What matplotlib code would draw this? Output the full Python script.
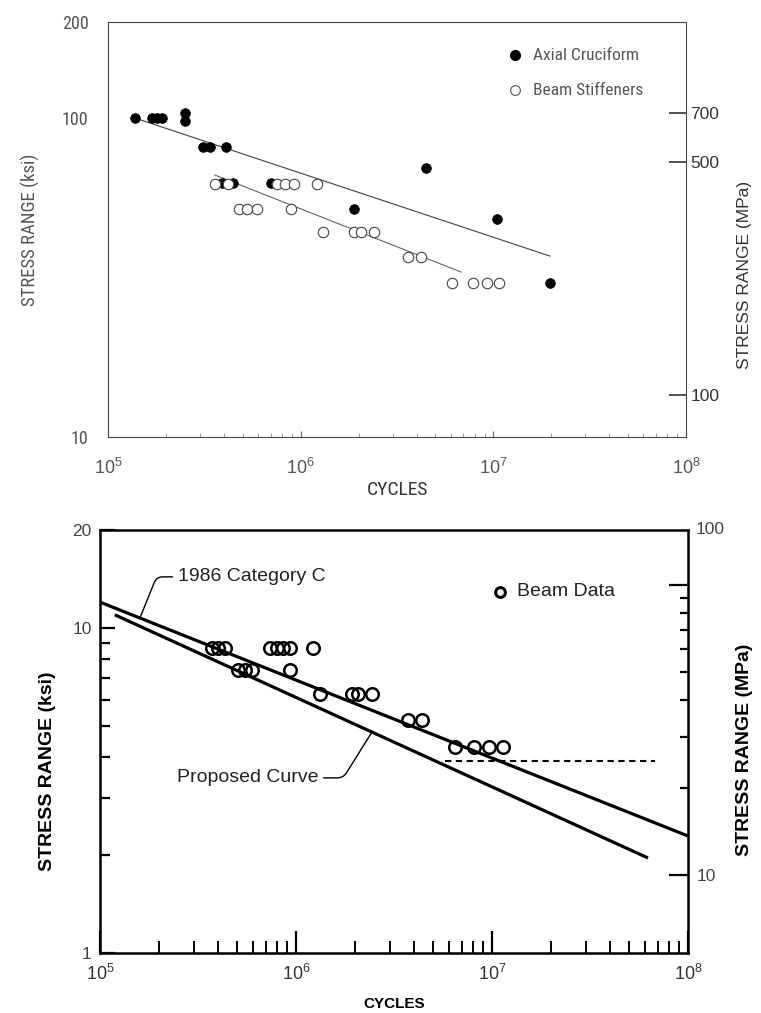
import os
import matplotlib
matplotlib.use("Agg")
import matplotlib.pyplot as plt
import matplotlib.font_manager as fm
from matplotlib.font_manager import FontProperties
from matplotlib.ticker import FixedLocator, NullFormatter, LogLocator, NullLocator

# ---------------- data: top chart ----------------
axial_N = [1.38e5, 1.7e5, 1.8e5, 1.9e5, 2.5e5, 2.5e5, 3.1e5, 3.4e5, 4.1e5,
           3.9e5, 4.45e5, 7.0e5, 1.9e6, 4.45e6, 1.04e7, 1.97e7]
axial_S = [100, 100, 100, 100, 98, 104, 81, 81, 81,
           62.5, 62.5, 62.5, 52, 69.7, 48.2, 30.4]

stiff_N = [3.6e5, 4.2e5, 7.5e5, 8.3e5, 9.2e5, 1.21e6,
           4.8e5, 5.25e5, 5.9e5, 8.9e5,
           1.3e6, 1.9e6, 2.05e6, 2.39e6,
           3.6e6, 4.2e6,
           6.1e6, 7.8e6, 9.3e6, 1.07e7]
stiff_S = [62, 62, 62, 62, 62, 62,
           52, 52, 52, 52,
           44, 44, 44, 44,
           36.7, 36.7,
           30.4, 30.4, 30.4, 30.4]

axial_fit_N = [1.38e5, 1.97e7]
axial_fit_S = [100, 36.9]
stiff_fit_N = [3.58e5, 6.8e6]
stiff_fit_S = [66.3, 32.9]

top_yticks = [10, 100, 200]
top_yticklabels = ["10", "100", "200"]
top_mpa_ticks = [100, 500, 700]
top_mpa_lim = [74.8, 1309]
xticks = [1e5, 1e6, 1e7, 1e8]
xticklabels = [r"$\mathregular{10^5}$", r"$\mathregular{10^6}$",
               r"$\mathregular{10^7}$", r"$\mathregular{10^8}$"]

# ---------------- data: bottom chart ----------------
beam_N = [3.73e5, 4.0e5, 4.35e5, 7.36e5, 8.0e5, 8.6e5, 9.3e5, 1.22e6,
          5.06e5, 5.5e5, 5.97e5, 9.3e5,
          1.32e6, 1.93e6, 2.07e6, 2.44e6,
          3.72e6, 4.4e6,
          6.47e6, 8.1e6, 9.66e6, 1.14e7]
beam_S = [8.68] * 8 + [7.43] * 4 + [6.26] * 4 + [5.21] * 2 + [4.3] * 4

catc_N = [1e5, 1e8]
catc_S = [12.0, 2.29]
prop_N = [1.19e5, 6.25e7]
prop_S = [10.97, 1.96]
cafl_N = [5.76e6, 6.8e7]
cafl_S = [3.9, 3.9]

bot_yticks = [1, 10, 20]
bot_yticklabels = ["1", "10", "20"]
bot_mpa_lim = [5.38, 154.7]
bot_mpa_major = [10, 100]
bot_mpa_labels = ["10", ""]
bot_mpa_minor = [20, 30, 40, 50, 60, 70, 80, 90]


def find_narrow():
    files = [f.fname for f in fm.fontManager.ttflist]
    prefs = ["liberationsansnarrow-regular", "robotocondensed-regular",
             "dejavusanscondensed.ttf", "notosans-condensed.ttf",
             "opensans_condensed-regular", "opensans-condensed"]
    for p in prefs:
        for f in files:
            if p in os.path.basename(f).lower():
                return f
    bad = ["bold", "italic", "oblique", "light", "thin", "black", "medium",
           "semi", "extra", "ultra", "mono", "serif"]
    for f in files:
        b = os.path.basename(f).lower()
        if ("condensed" in b or "narrow" in b) and not any(k in b for k in bad):
            return f
    return None


NARROW = find_narrow()


def nfp(size):
    if NARROW:
        return FontProperties(fname=NARROW, size=size)
    return FontProperties(family="Liberation Sans", size=size)


plt.rcParams["font.family"] = ["Liberation Sans", "DejaVu Sans"]
plt.rcParams["mathtext.fontset"] = "custom"
plt.rcParams["mathtext.rm"] = "Liberation Sans"

fig = plt.figure(figsize=(7.61, 10.13), dpi=100)

# ================= TOP CHART =================
gray = "#555555"
ax1 = fig.add_axes([108 / 761, 1 - 437 / 1013, 578 / 761, 415 / 1013])
ax1.set_xscale("log")
ax1.set_yscale("log")
ax1.set_xlim(1e5, 1e8)
ax1.set_ylim(10, 200)
for sp in ax1.spines.values():
    sp.set_color("#444444")
    sp.set_linewidth(0.8)

ax1.plot(axial_fit_N, axial_fit_S, color="#444444", lw=0.8)
ax1.plot(stiff_fit_N, stiff_fit_S, color="#666666", lw=0.8)
ax1.plot(axial_N, axial_S, "o", ms=7, mfc="black", mec="black", mew=0.5)
ax1.plot(stiff_N, stiff_S, "o", ms=7.5, mfc="white", mec="#444444", mew=0.8)

ax1.yaxis.set_major_locator(FixedLocator(top_yticks))
ax1.yaxis.set_minor_locator(NullLocator())
ax1.set_yticklabels(top_yticklabels, fontproperties=nfp(13), color=gray)
ax1.tick_params(axis="y", which="major", length=0, pad=14)

ax1.xaxis.set_major_locator(FixedLocator(xticks))
ax1.xaxis.set_minor_locator(LogLocator(base=10, subs=[2, 3, 4, 5, 6, 7, 8, 9]))
ax1.xaxis.set_minor_formatter(NullFormatter())
ax1.set_xticklabels(xticklabels, fontsize=13, color=gray)
ax1.tick_params(axis="x", which="major", direction="in", length=4, color="#666666", pad=15)
ax1.tick_params(axis="x", which="minor", direction="in", length=3, color="#888888", width=0.6)

ax1.set_xlabel("CYCLES", fontproperties=nfp(14), color="#333333", labelpad=2)
ax1.set_ylabel("STRESS RANGE (ksi)", fontproperties=nfp(13.5), color=gray, labelpad=16)

ax1r = ax1.twinx()
ax1r.set_yscale("log")
ax1r.set_ylim(*top_mpa_lim)
ax1r.yaxis.set_major_locator(FixedLocator(top_mpa_ticks))
ax1r.yaxis.set_minor_locator(NullLocator())
ax1r.set_yticklabels([str(t) for t in top_mpa_ticks], fontsize=12.5, color="#333333")
ax1r.tick_params(axis="y", which="major", direction="in", length=12, width=1.2,
                 color="#333333", pad=3)
for sp in ax1r.spines.values():
    sp.set_visible(False)
ax1r.set_ylabel("STRESS RANGE (MPa)", fontsize=12.5, color="#333333")
ax1r.yaxis.set_label_coords(1.088, 0.39)

# legend for top chart
ax1.plot([0.705], [0.92], "o", ms=7, mfc="black", mec="black", transform=ax1.transAxes)
ax1.text(0.735, 0.92, "Axial Cruciform", transform=ax1.transAxes,
         fontproperties=nfp(12.5), color=gray, va="center")
ax1.plot([0.705], [0.835], "o", ms=7, mfc="white", mec="#555555", mew=0.8,
         transform=ax1.transAxes)
ax1.text(0.735, 0.835, "Beam Stiffeners", transform=ax1.transAxes,
         fontproperties=nfp(12.5), color=gray, va="center")

# ================= BOTTOM CHART =================
ax2 = fig.add_axes([100 / 761, 1 - 953 / 1013, 588 / 761, 423 / 1013])
ax2.set_xscale("log")
ax2.set_yscale("log")
ax2.set_xlim(1e5, 1e8)
ax2.set_ylim(1, 20)
for sp in ax2.spines.values():
    sp.set_color("black")
    sp.set_linewidth(1.8)

ax2.plot(catc_N, catc_S, color="black", lw=2.3, solid_capstyle="butt")
ax2.plot(prop_N, prop_S, color="black", lw=2.3, solid_capstyle="butt")
ax2.plot(cafl_N, cafl_S, color="black", lw=1.5, linestyle=(0, (3, 2.2)))
ax2.plot(beam_N, beam_S, "o", ms=9, mfc="none", mec="black", mew=1.8)

ax2.yaxis.set_major_locator(FixedLocator(bot_yticks))
ax2.yaxis.set_minor_locator(FixedLocator([2, 3, 4, 5, 6, 7, 8, 9]))
ax2.yaxis.set_minor_formatter(NullFormatter())
ax2.set_yticklabels(bot_yticklabels, fontsize=12.5, color="#444444")
ax2.tick_params(axis="y", which="major", direction="in", length=11, width=1.6, pad=6)
ax2.tick_params(axis="y", which="minor", direction="in", length=7, width=1.6)

ax2.xaxis.set_major_locator(FixedLocator(xticks))
ax2.xaxis.set_minor_locator(LogLocator(base=10, subs=[2, 3, 4, 5, 6, 7, 8, 9]))
ax2.xaxis.set_minor_formatter(NullFormatter())
ax2.set_xticklabels(xticklabels, fontsize=13, color="#333333")
ax2.tick_params(axis="x", which="major", direction="in", length=16, width=1.6, pad=8)
ax2.tick_params(axis="x", which="minor", direction="in", length=9, width=1.4)
ax2.set_xlabel("CYCLES", fontsize=11, fontweight="bold", labelpad=9)
ax2.set_ylabel("STRESS RANGE (ksi)", fontsize=14, fontweight="bold", labelpad=14)
ax2.yaxis.set_label_coords(-0.075, 0.43)

ax2r = ax2.twinx()
ax2r.set_yscale("log")
ax2r.set_ylim(*bot_mpa_lim)
ax2r.yaxis.set_major_locator(FixedLocator(bot_mpa_major))
ax2r.yaxis.set_minor_locator(FixedLocator(bot_mpa_minor))
ax2r.yaxis.set_minor_formatter(NullFormatter())
ax2r.set_yticklabels(bot_mpa_labels, fontsize=12.5, color="#444444")
ax2r.tick_params(axis="y", which="major", direction="in", length=14, width=1.6, pad=6)
ax2r.tick_params(axis="y", which="minor", direction="in", length=6, width=1.6)
for sp in ax2r.spines.values():
    sp.set_visible(False)
ax2r.set_ylabel("STRESS RANGE (MPa)", fontsize=14, fontweight="bold")
ax2r.yaxis.set_label_coords(1.082, 0.48)
ax2r.text(1.013, 1.0, "100", transform=ax2r.transAxes, fontsize=12.5,
          color="#444444", va="center", ha="left")

# annotations
ax2.annotate("1986 Category C", xy=(1.6e5, 10.74), xytext=(2.5e5, 14.35),
             fontsize=14, va="center", ha="left", color="#222222",
             arrowprops=dict(arrowstyle="-", color="black", lw=1.0,
                             connectionstyle="angle,angleA=0,angleB=68,rad=6",
                             shrinkA=2, shrinkB=0))
ax2.annotate("Proposed Curve", xy=(2.44e6, 4.78), xytext=(1.295e6, 3.456),
             fontsize=14, va="center", ha="right", color="#222222",
             arrowprops=dict(arrowstyle="-", color="black", lw=1.0,
                             connectionstyle="angle,angleA=0,angleB=58,rad=6",
                             shrinkA=2, shrinkB=0))

ax2.plot([0.68], [0.854], "o", ms=7, mfc="none", mec="black", mew=2.2,
         transform=ax2.transAxes)
ax2.text(0.71, 0.854, "Beam Data", transform=ax2.transAxes, fontsize=14,
         va="center", color="#222222")

fig.savefig("out.png", dpi=100)
